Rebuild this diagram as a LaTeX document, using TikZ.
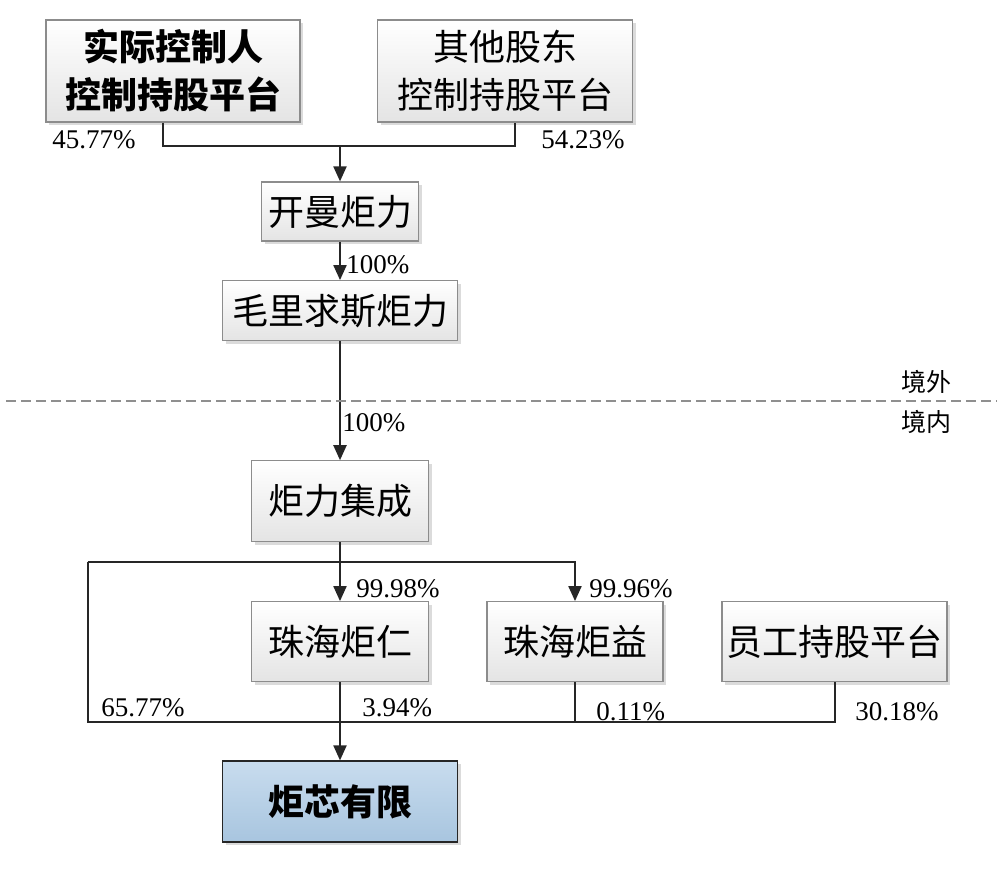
\documentclass[tikz,border=0pt]{standalone}
\usepackage{fontspec}
\setmainfont{Liberation Serif}
\newfontfamily\cjk{Noto Sans CJK SC}
\usepackage{xcolor}
\usepackage{tikz}
\usetikzlibrary{calc,arrows.meta,shadows}
\definecolor{edge}{HTML}{8C8C8C}
\definecolor{ink}{HTML}{262626}
\definecolor{boxlow}{HTML}{E4E4E4}
\definecolor{bluetop}{HTML}{C8DCEE}
\definecolor{bluelow}{HTML}{A8C5DF}
\definecolor{borderline}{HTML}{8F8F8F}
\tikzset{
  box/.style={draw=edge, line width=0.6pt, top color=white, bottom color=boxlow,
    drop shadow={shadow xshift=1.5pt, shadow yshift=-1.5pt, fill=black!14, opacity=1},
    inner sep=0pt, align=center, font=\cjk\fontsize{18}{24}\selectfont, text=black},
  keybox/.style={box, draw=ink, top color=bluetop, bottom color=bluelow, font=\cjk\bfseries\fontsize{18}{24}\selectfont},
  conn/.style={draw=ink, line width=1pt},
  arr/.style={conn, -{Triangle[length=7.5pt,width=6.5pt]}},
  pct/.style={text=black, font=\fontsize{13.5}{15}\selectfont, inner sep=0pt, anchor=west},
  zone/.style={text=black, font=\cjk\fontsize{12.5}{14}\selectfont, inner sep=0pt}
}
\begin{document}
\begin{tikzpicture}[x=0.5pt, y=-0.5pt]
  \useasboundingbox (0,0) rectangle (1000,868);

  % shareholders abroad
  \node[box, minimum width=127pt, minimum height=51pt, font=\cjk\bfseries\fontsize{18}{24}\selectfont] (ctrl) at (173,71) {实际控制人\\控制持股平台};
  \node[box, minimum width=127.5pt, minimum height=51pt] (other) at (505,71) {其他股东\\控制持股平台};
  \node[box, minimum width=78.5pt, minimum height=29.5pt] (cayman) at (340,211.5) {开曼炬力};
  \node[box, minimum width=117.5pt, minimum height=30pt] (mauri) at (340,310.7) {毛里求斯炬力};

  % domestic
  \node[box, minimum width=88.5pt, minimum height=40.5pt] (integ) at (340,501.3) {炬力集成};
  \node[box, minimum width=88.5pt, minimum height=40pt] (zhren) at (340,641.7) {珠海炬仁};
  \node[box, minimum width=88pt, minimum height=40pt] (zhyi) at (575,641.7) {珠海炬益};
  \node[box, minimum width=112.5pt, minimum height=40pt] (staff) at (834.5,641.7) {员工持股平台};
  \node[keybox, minimum width=117.5pt, minimum height=40.5pt] (chip) at (340,801.5) {炬芯有限};

  \coordinate (join) at (340,146);
  \coordinate (busL) at (87.5,562);
  \coordinate (busB) at (87.5,722);

  % connectors
  \draw[conn] ($(ctrl.south)+(-10,0)$) |- (join) -| ($(other.south)+(10,0)$);
  \draw[arr] (join) -- (cayman.north);
  \draw[arr] (cayman.south) -- (mauri.north);
  \draw[arr] (mauri.south) -- (integ.north);
  \draw[arr] (integ.south) -- (zhren.north);
  \draw[arr] (busL) -| (zhyi.north);
  \draw[conn] (busL) -- (busB) -| (staff.south);
  \draw[conn] (zhyi.south) -- (zhyi.south |- busB);
  \draw[arr] (zhren.south) -- (chip.north);

  % border line
  \draw[borderline, line width=0.9pt, dash pattern=on 5pt off 2.5pt] (6,401) -- (997,401);
  \node[zone] (out) at (926,382) {境外};
  \node[zone] (in) at (926,422) {境内};

  % shares
  \node[pct] at (52,140) {45.77\%};
  \node[pct] at (541,140) {54.23\%};
  \node[pct] at (346,265) {100\%};
  \node[pct] at (342,423) {100\%};
  \node[pct] at (356,589) {99.98\%};
  \node[pct] at (589,589) {99.96\%};
  \node[pct] at (101,708) {65.77\%};
  \node[pct] at (362,708) {3.94\%};
  \node[pct] at (596,712) {0.11\%};
  \node[pct] at (855,712) {30.18\%};
\end{tikzpicture}
\end{document}
